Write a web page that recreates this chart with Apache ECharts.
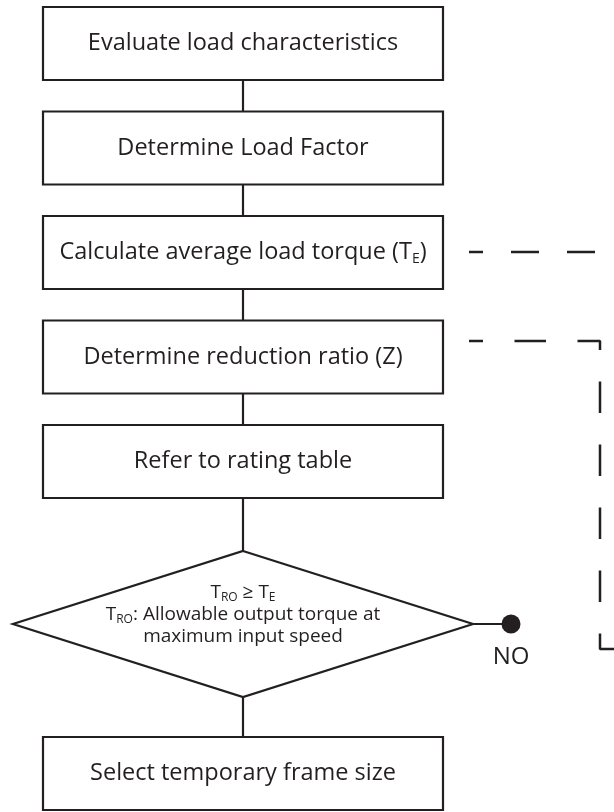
<!DOCTYPE html>
<html>
<head>
<meta charset="utf-8">
<script src="https://cdn.jsdelivr.net/npm/echarts@6/dist/echarts.min.js"></script>
<style>
  html, body { margin: 0; padding: 0; background: #fff; }
  #main { width: 614px; height: 812px; }
</style>
</head>
<body>
<div id="main"></div>
<script>
// flow steps (rich text markup, {s|..} = subscript)
var steps = [
  '{n|Evaluate load characteristics}',
  '{n|Determine Load Factor}',
  '{n|Calculate average load torque (T}{s|E}{n|)}',
  '{n|Determine reduction ratio (Z)}',
  '{n|Refer to rating table}',
  '{n|Select temporary frame size}'
];
// centre of each step on the flow, in page units (y grows downward)
var stepX = [243, 243, 243, 243, 243, 243];
var stepY = [43.5, 148, 252.5, 357, 461.5, 773.5];

var decisionText = '{n|T}{s|RO}{n| ≥ T}{s|E}\n{n|T}{s|RO}{n|: Allowable output torque at}\n{n|maximum input speed}';
var decisionPos = [243, 624];

var noPoint = [[511, 624]];
var noLabel = 'NO';

// dashed return paths on the right
var dashPath1 = [[469, 252], [640, 252]];
var dashPath2 = [[469, 341], [600, 341], [600, 649], [640, 649]];

var ink = '#231f20';
var boxW = 400, boxH = 73;
var diaW = 460, diaH = 146;
var font = 'Open Sans';

var myChart = echarts.init(document.getElementById('main'));

// vertical connectors between consecutive nodes
var nodes = [];
for (var i = 0; i < 5; i++) nodes.push({ x: stepX[i], y: stepY[i], h: boxH });
nodes.push({ x: decisionPos[0], y: decisionPos[1], h: diaH });
nodes.push({ x: stepX[5], y: stepY[5], h: boxH });
var links = [];
for (var j = 0; j < nodes.length - 1; j++) {
  links.push([nodes[j].x, nodes[j].y + nodes[j].h / 2, nodes[j + 1].y - nodes[j + 1].h / 2]);
}

var boxData = [];
for (var k = 0; k < steps.length; k++) boxData.push([stepX[k], stepY[k], steps[k]]);

var option = {
  animation: false,
  backgroundColor: '#fff',
  grid: { left: 0, right: 0, top: 0, bottom: 0 },
  xAxis: { type: 'value', min: 0, max: 614, show: false },
  yAxis: { type: 'value', min: 0, max: 812, inverse: true, show: false },
  series: [
    {
      type: 'custom',
      name: 'links',
      data: links,
      z: 1,
      renderItem: function (params, api) {
        var a = api.coord([api.value(0), api.value(1)]);
        var b = api.coord([api.value(0), api.value(2)]);
        return {
          type: 'line',
          shape: { x1: a[0], y1: a[1], x2: b[0], y2: b[1] },
          style: { stroke: ink, lineWidth: 2.2 }
        };
      }
    },
    {
      type: 'custom',
      name: 'steps',
      data: boxData,
      z: 2,
      renderItem: function (params, api) {
        var c = api.coord([api.value(0), api.value(1)]);
        var s = api.size([boxW, boxH]);
        return {
          type: 'group',
          children: [{
            type: 'rect',
            shape: { x: c[0] - s[0] / 2, y: c[1] - s[1] / 2, width: s[0], height: s[1] },
            style: { fill: '#fff', stroke: ink, lineWidth: 2.2 }
          }, {
            type: 'text',
            x: c[0],
            y: c[1],
            style: {
              text: boxData[params.dataIndex][2],
              align: 'center',
              verticalAlign: 'middle',
              rich: {
                n: { fontFamily: font, fontSize: 23.5, lineHeight: 28, fill: ink, verticalAlign: 'middle' },
                s: { fontFamily: font, fontSize: 14, lineHeight: 14, fill: ink, verticalAlign: 'bottom' }
              }
            }
          }]
        };
      }
    },
    {
      type: 'custom',
      name: 'decision',
      data: [decisionPos],
      z: 2,
      renderItem: function (params, api) {
        var c = api.coord([api.value(0), api.value(1)]);
        var s = api.size([diaW, diaH]);
        return {
          type: 'group',
          children: [{
            type: 'polygon',
            shape: { points: [[c[0], c[1] - s[1] / 2], [c[0] + s[0] / 2, c[1]], [c[0], c[1] + s[1] / 2], [c[0] - s[0] / 2, c[1]]] },
            style: { fill: '#fff', stroke: ink, lineWidth: 2.2 }
          }, {
            type: 'text',
            x: c[0],
            y: c[1] - 9,
            style: {
              text: decisionText,
              align: 'center',
              verticalAlign: 'middle',
              rich: {
                n: { fontFamily: font, fontSize: 19, lineHeight: 22, fill: ink, verticalAlign: 'middle' },
                s: { fontFamily: font, fontSize: 12, lineHeight: 12, fill: ink, verticalAlign: 'bottom' }
              }
            }
          }]
        };
      }
    },
    {
      type: 'line',
      name: 'noLink',
      data: [[decisionPos[0] + diaW / 2, decisionPos[1]], noPoint[0]],
      symbol: 'none',
      lineStyle: { color: ink, width: 2.2 },
      z: 1
    },
    {
      type: 'scatter',
      name: 'no',
      data: noPoint,
      symbolSize: 19,
      itemStyle: { color: ink, opacity: 1 },
      label: {
        show: true,
        formatter: noLabel,
        position: 'bottom',
        distance: 12,
        fontFamily: font,
        fontSize: 24,
        color: ink
      },
      z: 3
    },
    {
      type: 'line',
      name: 'dash1',
      data: dashPath1,
      symbol: 'none',
      lineStyle: { color: ink, width: 2.5, type: [28, 28], dashOffset: 14 },
      z: 1
    },
    {
      type: 'line',
      name: 'dash2',
      data: dashPath2,
      symbol: 'none',
      lineStyle: { color: ink, width: 2.5, type: [31.5, 31.5], dashOffset: 17.5 },
      z: 1
    }
  ]
};
myChart.setOption(option);
</script>
</body>
</html>
